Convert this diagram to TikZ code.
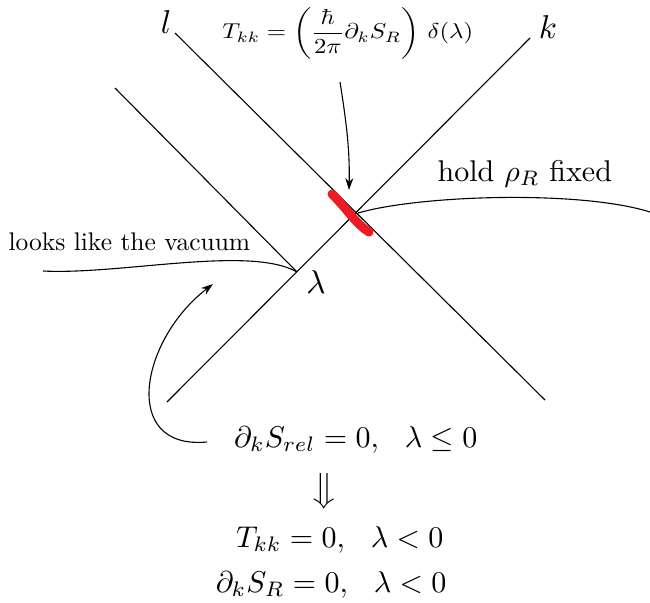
\documentclass[tikz,border=0pt]{standalone}
\usepackage{amsmath}
\usetikzlibrary{arrows.meta}
\tikzset{
  ln/.style={line width=1.1pt, black},
  arr/.style={ln, -{Stealth[length=12pt,width=8pt]}},
  big/.style={scale=3.0, transform shape, inner sep=0pt},
  lab/.style={scale=3.3, transform shape, inner sep=0pt},
  hold/.style={scale=3.0, transform shape, inner sep=0pt},
  mid/.style={scale=2.55, transform shape, inner sep=0pt},
  small/.style={scale=2.15, xscale=1.15, transform shape, inner sep=0pt},
  redmark/.style={line width=9pt, color={rgb,255:red,237;green,28;blue,36}, line cap=round}
}
\newcommand{\gapsp}{\hskip 0.7em}
\begin{document}
\begin{tikzpicture}[x=1pt,y=-1pt]
\useasboundingbox (0,0) rectangle (650,602);
% coordinates
\coordinate (lt) at (175,33);
\coordinate (lb) at (545,400);
\coordinate (kt) at (530,38);
\coordinate (kb) at (167,402);
\coordinate (pt) at (115,88);
\coordinate (pb) at (297,272);
\coordinate (x) at (358,213);
\coordinate (ve) at (43,271);
\coordinate (he) at (650,212);
\coordinate (r1) at (332,194);
\coordinate (r2) at (369,232);
% lines
\draw[ln] (lt) -- (lb);
\draw[ln] (kt) -- (kb);
\draw[ln] (pt) -- (pb);
\draw[ln] (ve) .. controls (120,275) and (250,245) .. (pb);
\draw[ln] (x) .. controls (420,195) and (580,190) .. (he);
\draw[redmark] (r1) .. controls (348,210) and (356,224) .. (r2);
% labels
\node[lab] (l) at (166,22) {$l$};
\node[lab] (k) at (548,27) {$k$};
\node[small, anchor=base west] (tkk) at (222,39) {$\displaystyle T_{kk} = \left(\frac{\hbar}{2\pi}\partial_k S_R\right)\,\delta(\lambda)$};
\node[hold, anchor=base west] (holdtxt) at (437,181) {hold $\rho_R$ fixed};
\node[mid, anchor=base west] (vac) at (8,250) {looks like the vacuum};
\node[lab] (lam) at (316,282) {$\lambda$};
\node[big, anchor=base east] (e1) at (478,447) {$\partial_k S_{rel} = 0,\gapsp \lambda \leq 0$};
\node[big] (imp) at (324,491) {$\big\Downarrow$};
\node[big, anchor=base east] (e2) at (444,547) {$T_{kk} = 0,\gapsp \lambda < 0$};
\node[big, anchor=base east] (e3) at (447,592) {$\partial_k S_R = 0,\gapsp \lambda < 0$};
% arrows
\coordinate (a1s) at (340,82);
\coordinate (a1e) at (349,190);
\draw[arr] (a1s) .. controls (346,120) and (350,150) .. (a1e);
\coordinate (a2s) at (207,442);
\coordinate (a2e) at (213,284);
\draw[arr] (a2s) .. controls (120,450) and (140,340) .. (a2e);
\end{tikzpicture}
\end{document}
